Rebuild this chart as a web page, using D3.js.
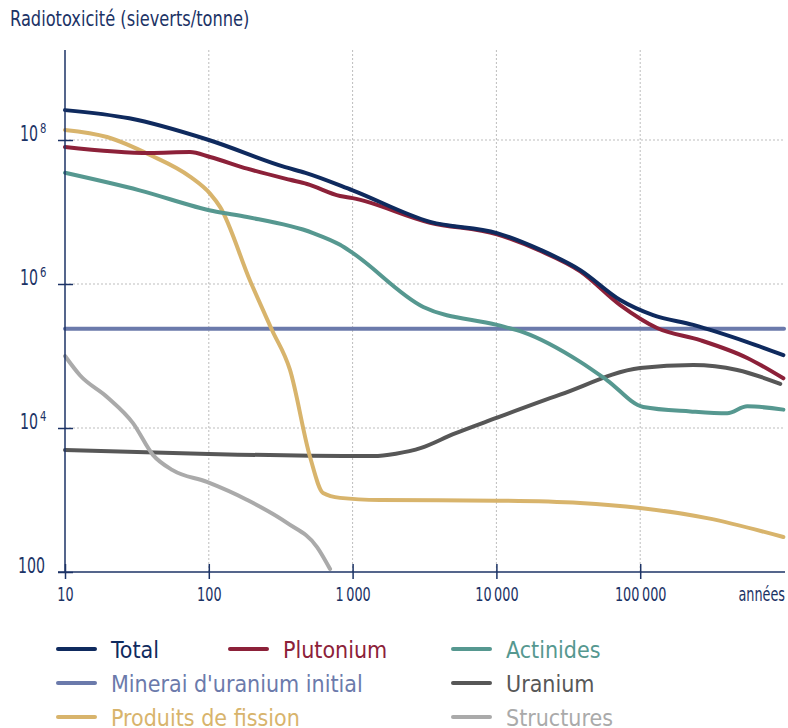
<!DOCTYPE html>
<meta charset="utf-8">
<style>
  body { margin: 0; background: #fff; }
  svg { display: block; font-family: "Liberation Sans Narrow", "DejaVu Sans Condensed", sans-serif; }
</style>
<svg width="788" height="728"></svg>
<script src="https://d3js.org/d3.v7.min.js"></script>
<script>

// [années, sieverts/tonne]
const total = [[10, 2.6e8], [28, 2.0e8], [100, 1.0e8], [340, 4.2e7], [470, 3.5e7], [1000, 2.0e7],
  [3460, 7.3e6], [10100, 5.1e6], [20100, 3.0e6], [38300, 1.56e6], [72600, 6.0e5], [123000, 3.7e5],
  [234000, 2.7e5], [555000, 1.56e5], [990000, 1.03e5]];
const plutonium = [[10, 8.0e7], [39, 6.6e7], [74, 6.8e7], [102, 5.8e7], [185, 4.0e7], [367, 2.8e7],
  [482, 2.45e7], [818, 1.67e7], [1000, 1.56e7], [3460, 7.1e6], [10100, 4.9e6], [20100, 2.9e6],
  [38300, 1.5e6], [72600, 5.1e5], [131000, 2.45e5], [261000, 1.66e5], [555000, 9.4e4], [990000, 4.9e4]];
const actinides = [[10, 3.5e7], [33, 2.0e7], [107, 1.03e7], [185, 8.5e6], [531, 5.1e6], [818, 3.5e6],
  [1000, 2.7e6], [3100, 4.8e5], [10100, 2.7e5], [15300, 2.15e5], [38300, 8.3e4], [58900, 4.6e4],
  [105000, 1.96e4], [223000, 1.7e4], [403000, 1.6e4], [555000, 2.0e4], [990000, 1.8e4]];
const minerai = [[10, 2.4e5], [1e6, 2.4e5]];
const uranium = [[10, 4940], [100, 4360], [1000, 4080], [1400, 4080], [2000, 4400], [3000, 5300],
  [5000, 8200], [10000, 1.38e4], [27700, 2.9e4], [100000, 6.8e4], [234000, 7.5e4], [473000, 6.4e4],
  [942000, 4.1e4]];
const fission = [[10, 1.38e8], [19.6, 1.1e8], [39, 6.2e7], [74, 3.1e7], [102, 1.8e7], [120, 1.17e7],
  [194, 1.1e6], [275, 2.3e5], [367, 6.4e4], [506, 3950], [623, 1250], [818, 1070], [1550, 1000],
  [10000, 980], [38300, 910], [100000, 775], [292000, 560], [990000, 306]];
const structures = [[10, 1.0e5], [12.7, 5.4e4], [19.6, 2.7e4], [29.7, 1.17e4], [41, 4200], [56, 2600],
  [97, 1780], [185, 1000], [350, 480], [566, 222], [697, 110]];

const yTicks = [1e2, 1e4, 1e6, 1e8];
const xTicks = [10, 100, 1000, 10000, 100000];
const xTickLabels = ["10", "100", "1\u2009000", "10\u2009000", "100\u2009000"];

const navy = "#1c3366";

const series = [
  {name: "Minerai d'uranium initial", data: minerai, color: "#6b7aab", col: 0, row: 1},
  {name: "Uranium", data: uranium, color: "#575757", col: 2, row: 1},
  {name: "Structures", data: structures, color: "#aaaaaa", col: 2, row: 2},
  {name: "Produits de fission", data: fission, color: "#d8b46c", col: 0, row: 2},
  {name: "Actinides", data: actinides, color: "#569890", col: 2, row: 0},
  {name: "Plutonium", data: plutonium, color: "#8c2139", col: 1, row: 0},
  {name: "Total", data: total, color: "#0f2a5e", col: 0, row: 0}
];

// police plus étroite : on resserre le texte, ancré à gauche, au centre ou à droite de x
function squeeze(sel, k, anchor) {
  sel.each(function() {
    const t = d3.select(this);
    const w = this.getComputedTextLength() * k;
    const x0 = +t.attr("x") || 0;
    const shift = anchor === "end" ? w : anchor === "middle" ? w / 2 : 0;
    t.attr("text-anchor", "start")
      .attr("x", x0 - shift)
      .attr("textLength", w)
      .attr("lengthAdjust", "spacingAndGlyphs");
  });
}

const svg = d3.select("svg");

const x = d3.scaleLog().domain([10, 1e6]).range([65, 784]);
const y = d3.scaleLog().domain([100, Math.pow(10, 9.25)]).range([572, 50]);

// titre
svg.append("text")
    .attr("x", 10)
    .attr("y", 26)
    .attr("fill", navy)
    .attr("font-size", 22)
    .text("Radiotoxicité (sieverts/tonne)")
    .call(squeeze, 0.82, "start");

// grille pointillée
svg.append("g")
  .selectAll("line")
  .data(yTicks.slice(1))
  .join("line")
    .attr("x1", x(10)).attr("x2", 785)
    .attr("y1", d => y(d)).attr("y2", d => y(d))
    .attr("stroke", "#bdbdbd")
    .attr("stroke-dasharray", "2,2");

svg.append("g")
  .selectAll("line")
  .data(xTicks.slice(1))
  .join("line")
    .attr("x1", d => x(d)).attr("x2", d => x(d))
    .attr("y1", 50).attr("y2", y(100))
    .attr("stroke", "#bdbdbd")
    .attr("stroke-dasharray", "2,2");

// courbes
const line = d3.line()
    .x(d => x(d[0]))
    .y(d => y(d[1]))
    .curve(d3.curveMonotoneX);

svg.append("g")
    .attr("fill", "none")
    .attr("stroke-width", 4)
    .attr("stroke-linecap", "round")
    .attr("stroke-linejoin", "round")
  .selectAll("path")
  .data(series)
  .join("path")
    .attr("stroke", d => d.color)
    .attr("d", d => line(d.data));

// axes
const yAxis = svg.append("g")
    .attr("transform", `translate(${x(10)},0)`)
    .call(d3.axisLeft(y).tickValues(yTicks).tickSize(7).tickSizeOuter(0).tickFormat(""));
yAxis.attr("font-family", null);
yAxis.select(".domain").attr("d", `M0,50V${y(100)}`).attr("stroke", navy).attr("stroke-width", 1.5);
yAxis.selectAll(".tick line").attr("x2", 8).attr("x1", -7).attr("stroke", navy).attr("stroke-width", 1.5);
yAxis.selectAll(".tick text").remove();

yAxis.selectAll(".tick").each(function(d) {
  const g = d3.select(this);
  const e = Math.round(Math.log10(d));
  g.append("text")
      .attr("fill", navy)
      .attr("font-size", 21)
      .attr("x", e === 2 ? -20 : -27)
      .attr("y", 0)
      .text(e === 2 ? "100" : "10")
      .call(squeeze, 0.75, "end");
  if (e !== 2) {
    g.append("text")
        .attr("fill", navy)
        .attr("font-size", 14)
        .attr("x", -25)
        .attr("y", -8)
        .text(e)
        .call(squeeze, 0.8, "start");
  }
});

const xAxis = svg.append("g")
    .attr("transform", `translate(0,${y(100)})`)
    .call(d3.axisBottom(x).tickValues(xTicks).tickSize(7).tickSizeOuter(0).tickFormat((d, i) => xTickLabels[i]));
xAxis.attr("font-family", null);
xAxis.select(".domain").attr("d", "M58,0H785").attr("stroke", navy).attr("stroke-width", 1.5);
xAxis.selectAll(".tick line").attr("y1", -8).attr("y2", 7).attr("stroke", navy).attr("stroke-width", 1.5);
xAxis.selectAll(".tick text")
    .attr("y", 29)
    .attr("dy", null)
    .attr("fill", navy)
    .attr("font-size", 19)
    .call(squeeze, 0.75, "middle");

svg.append("text")
    .attr("x", 785)
    .attr("y", y(100) + 29)
    .attr("fill", navy)
    .attr("font-size", 19)
    .text("années")
    .call(squeeze, 0.75, "end");

// légende
const colX = [58, 230, 453];
const rowY = [649, 683, 717];

const legend = svg.append("g")
  .selectAll("g")
  .data(series)
  .join("g")
    .attr("transform", d => `translate(${colX[d.col]},${rowY[d.row]})`);

legend.append("line")
    .attr("x2", 37)
    .attr("stroke", d => d.color)
    .attr("stroke-width", 4)
    .attr("stroke-linecap", "round");

legend.append("text")
    .attr("x", 53)
    .attr("y", 9)
    .attr("fill", d => d.color)
    .attr("font-size", 23)
    .text(d => d.name);

</script>
